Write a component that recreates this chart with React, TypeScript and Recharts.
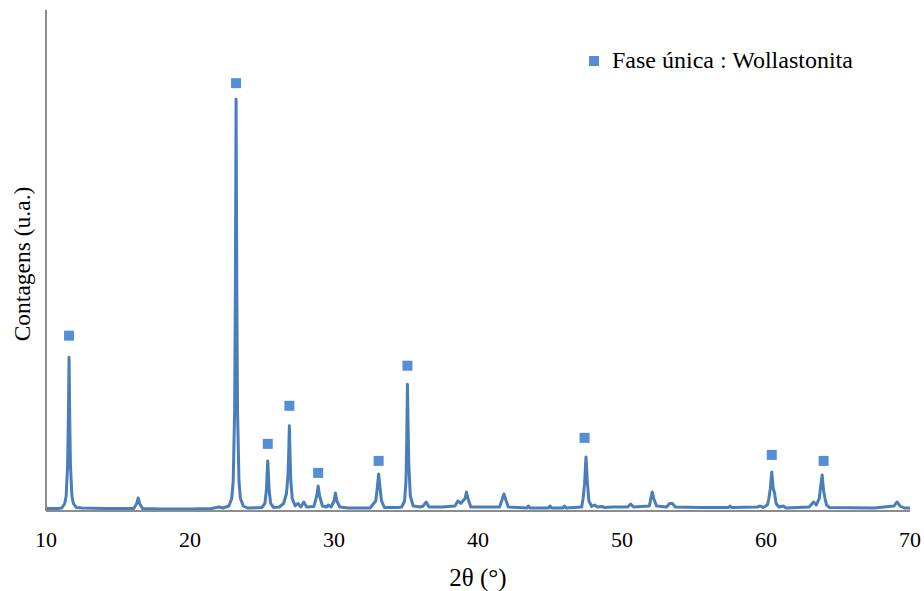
import React from "react";
import { ComposedChart, Line, Scatter, XAxis, YAxis } from "recharts";

const twoTheta: number[] = [
  10.0, 10.8, 11.1, 11.3, 11.4, 11.5, 11.55, 11.6, 11.65, 11.7, 11.8, 11.9, 12.1, 12.5, 14.0,
  16.1, 16.3, 16.4, 16.5, 16.7, 18.0, 20.0, 21.5, 22.0, 22.3,
  22.7, 22.9, 23.0, 23.1, 23.15, 23.2, 23.25, 23.3, 23.4, 23.5, 23.7, 24.0,
  25.0, 25.2, 25.3, 25.35, 25.4, 25.45, 25.5, 25.6, 25.8,
  26.2, 26.5, 26.7, 26.8, 26.85, 26.9, 26.95, 27.0, 27.1, 27.3, 27.5,
  27.7, 27.9, 28.1, 28.6, 28.8, 28.9, 29.0, 29.2, 29.5, 29.6, 29.8, 30.0,
  30.1, 30.2, 30.4, 31.0, 32.5, 32.9, 33.0, 33.1, 33.2, 33.3, 33.5, 34.5,
  34.7, 34.9, 35.0, 35.05, 35.1, 35.15, 35.2, 35.3, 35.5, 36.0, 36.2, 36.4, 36.6, 37.5, 38.4,
  38.6, 38.8, 39.1, 39.2, 39.3, 39.5, 41.5, 41.7, 41.8, 41.9, 42.1, 43.4,
  43.5, 43.6, 44.9, 45.0, 45.1, 45.9, 46.0, 46.1, 47.2, 47.3, 47.4, 47.5,
  47.6, 47.7, 47.9, 48.1, 48.3, 48.6, 48.8, 49.3, 50.4, 50.6, 50.8, 51.9,
  52.0, 52.1, 52.2, 52.4, 53.1, 53.3, 53.5, 53.7, 55.5, 57.4, 57.5, 57.6,
  59.4, 59.6, 59.8, 60.1, 60.2, 60.3, 60.4, 60.5, 60.6, 60.7, 60.9, 61.2, 61.4, 63.0,
  63.3, 63.5, 63.7, 63.8, 63.9, 64.0, 64.1, 64.2, 64.4, 67.5, 68.9, 69.1, 69.3,
  69.6, 70.0,
];

const counts: number[] = [
  0.5, 0.5, 0.6, 1.5, 3, 9, 18, 30.7, 18, 9, 3, 1.5, 0.7, 0.6, 0.5,
  0.5, 1.5, 2.6, 1.5, 0.5, 0.4, 0.4, 0.5, 0.8, 0.6,
  1.0, 2.5, 6, 20, 45, 82.2, 45, 20, 6, 2.5, 1.0, 0.6,
  0.7, 1.5, 4, 7, 10, 7, 4, 1.5, 0.7,
  0.8, 1.5, 3.5, 7, 11, 17, 11, 6, 2.5, 1, 1.5,
  0.8, 1.8, 0.8, 0.9, 3, 5, 3, 1, 0.8, 1.2, 0.8, 2,
  3.6, 2, 0.8, 0.6, 0.6, 2, 4.5, 7.4, 4.5, 2, 0.7, 0.7,
  0.8, 2, 6, 14, 25.3, 16, 9, 3, 1, 0.8, 1, 1.8, 0.8, 0.8, 1,
  2, 1.5, 2.5, 3.8, 2.5, 0.8, 0.8, 2.5, 3.4, 2.5, 0.8, 0.6,
  1, 0.6, 0.6, 1, 0.6, 0.6, 1, 0.6, 0.8, 2.5, 5.5, 10.8,
  5.5, 2, 0.9, 1.2, 0.8, 0.9, 0.7, 0.8, 0.8, 1.4, 0.8, 1,
  2.5, 3.8, 2.5, 1, 0.8, 1.5, 1.5, 0.8, 0.7, 0.7, 1.0, 0.7,
  0.8, 1.0, 0.7, 1.2, 2.5, 4.5, 7.8, 4.5, 3.5, 1.5, 0.8, 1.0, 0.6, 0.8,
  1.8, 1.2, 2.5, 5, 7.2, 4, 2.5, 1.2, 0.7, 0.6, 1.0, 1.8, 1.0,
  0.6, 0.6,
];

const markerTheta: number[] = [11.6, 23.2, 25.4, 26.9, 28.9, 33.1, 35.1, 47.4, 60.4, 64.0];
const markerLevel: number[] = [35, 85.4, 13.4, 21, 7.6, 10, 29, 14.6, 11.2, 10];

const xTicks: number[] = [10, 20, 30, 40, 50, 60, 70];
const legendLabel = "Fase única : Wollastonita";

const spectrum = twoTheta.map((t, i) => ({ t, c: counts[i] }));
const markers = markerTheta.map((t, i) => ({ t, m: markerLevel[i] }));

const FONT = "'Liberation Serif', 'Times New Roman', serif";
const LINE = "#4A7EBB";
const MARK = "#558ED5";

const SquareShape = (props: any) => {
  const { cx, cy } = props;
  if (cx == null || cy == null) return null;
  return <rect x={cx - 5} y={cy - 5} width={10} height={10} fill={MARK} />;
};

export default function App() {
  return (
    <div style={{ position: "absolute", left: 0, top: 0, width: 924, height: 591, background: "#fff" }}>
      <ComposedChart width={924} height={591} margin={{ top: 10, right: 14, bottom: 0, left: 0 }}>
        <XAxis
          type="number"
          dataKey="t"
          domain={[10, 70]}
          ticks={xTicks}
          allowDataOverflow
          axisLine={{ stroke: "#8C8C8C", strokeWidth: 2 }}
          tickLine={false}
          tickSize={6}
          tickMargin={14}
          tick={{ fill: "#000", fontFamily: FONT, fontSize: 22 }}
          height={80}
          label={() => (
            <text x={478} y={586} textAnchor="middle" fontFamily={FONT} fontSize={25} fill="#000">
              2θ (°)
            </text>
          )}
        />
        <YAxis
          type="number"
          domain={[0, 100]}
          allowDataOverflow
          width={46}
          tick={false}
          tickLine={false}
          axisLine={{ stroke: "#8C8C8C", strokeWidth: 2 }}
          label={() => (
            <text
              x={30}
              y={264}
              transform="rotate(-90, 30, 264)"
              textAnchor="middle"
              fontFamily={FONT}
              fontSize={23.5}
              fill="#000"
            >
              Contagens (u.a.)
            </text>
          )}
        />
        <Line
          data={spectrum}
          dataKey="c"
          type="linear"
          stroke={LINE}
          strokeWidth={3}
          strokeLinejoin="round"
          dot={false}
          activeDot={false}
          isAnimationActive={false}
          legendType="none"
        />
        <Scatter
          data={markers}
          dataKey="m"
          fill={MARK}
          shape={<SquareShape />}
          isAnimationActive={false}
        />
      </ComposedChart>
      <div
        style={{
          position: "absolute",
          left: 589,
          top: 47,
          display: "flex",
          alignItems: "center",
          fontFamily: FONT,
          fontSize: 24,
          color: "#000",
          whiteSpace: "nowrap",
        }}
      >
        <span style={{ display: "inline-block", width: 10, height: 10, background: MARK, marginRight: 13 }} />
        <span>{legendLabel}</span>
      </div>
    </div>
  );
}
